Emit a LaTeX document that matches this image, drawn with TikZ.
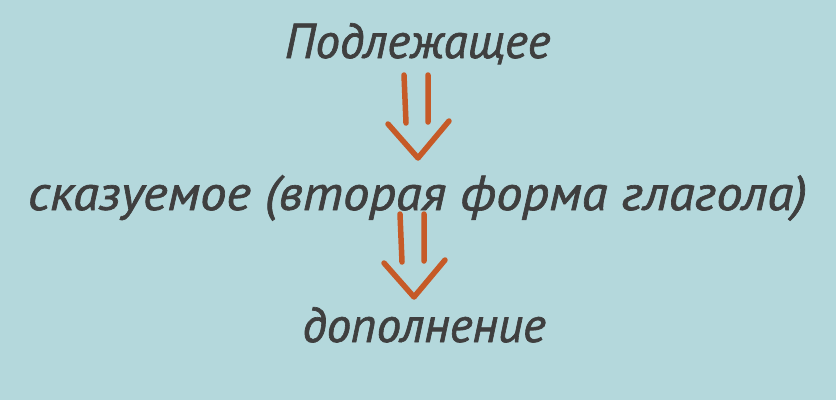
\documentclass[tikz,border=0pt]{standalone}
\usepackage{fontspec}
\setmainfont{PT Sans}[ItalicFeatures={FakeBold=1.3}]
\definecolor{bgblue}{HTML}{B4D8DC}
\definecolor{inkgray}{HTML}{3F3F3F}
\definecolor{arrowrust}{HTML}{C65A27}
\tikzset{
	word/.style={anchor=base,text=inkgray,inner sep=0pt,font=\itshape\fontsize{49}{54}\selectfont},
	stroke/.style={draw=arrowrust,line width=5.5pt,line cap=round,line join=round}
}
\begin{document}
\begin{tikzpicture}[x=1pt,y=-1pt]
	\fill[bgblue] (0,0) rectangle (836,400);
	\useasboundingbox (0,0) rectangle (836,400);
	\node[word] (subj) at (417.5,58) {Подлежащее};
	\node[word,xscale=1.075,transform shape] (pred) at (417.5,210) {сказуемое (вторая форма глагола)};
	\node[word] (obj) at (424,342) {дополнение};
	\coordinate (tipa) at (418,158);
	\coordinate (tipb) at (414,297);
	% hand drawn double arrows
	\foreach \t in {tipa,tipb}{
		\begin{scope}[shift={(\t)}]
			\draw[stroke] (-14,-83)--(-12,-35) (10,-83)--(10,-36);
			\draw[stroke] (-30,-34)--(0,0)--(31,-37);
		\end{scope}
	}
\end{tikzpicture}
\end{document}
